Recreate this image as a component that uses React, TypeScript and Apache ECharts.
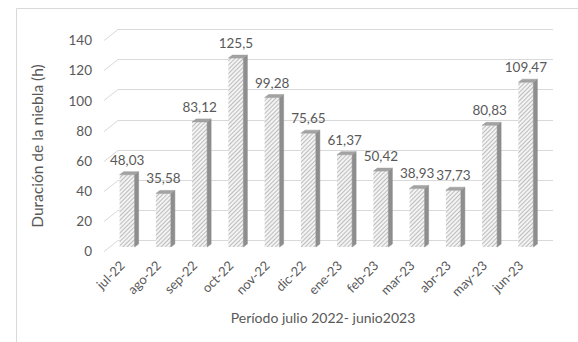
import React, { useEffect, useRef } from "react";
import * as echarts from "echarts";

const CATEGORIES = ["jul-22", "ago-22", "sep-22", "oct-22", "nov-22", "dic-22", "ene-23", "feb-23", "mar-23", "abr-23", "may-23", "jun-23"];
const DURATION = [48.03, 35.58, 83.12, 125.5, 99.28, 75.65, 61.37, 50.42, 38.93, 37.73, 80.83, 109.47];
const Y_TICKS = [0, 20, 40, 60, 80, 100, 120, 140];
const Y_TITLE = "Duración de la niebla (h)";
const X_TITLE = "Período julio 2022- junio2023";

const FONT = "Lato, 'Open Sans', sans-serif";
const TEXT = "#595959";
const GRID_COLOR = "#d9d9d9";
const BAR_W = 15;
const DEPTH_X = 4;
const DEPTH_Y = 3;

export default function App() {
  const ref = useRef<HTMLDivElement>(null);
  useEffect(() => {
    if (!ref.current) return;
    const chart = echarts.init(ref.current, null, { renderer: "svg" });
    const fmt = (v: number) => String(v).replace(".", ",");
    chart.setOption({
      animation: false,
      backgroundColor: "#ffffff",
      grid: [
        { left: 109, right: 34, top: 36.3, bottom: 95 },
        { left: 104, right: 39, top: 40.3, bottom: 91 },
        { left: 118, right: 25, top: 29.3, bottom: 102 },
      ],
      xAxis: [
        { gridIndex: 0, type: "category", data: CATEGORIES, show: false },
        {
          gridIndex: 1,
          type: "category",
          data: CATEGORIES,
          axisLine: { show: false },
          axisTick: { show: false },
          axisLabel: { rotate: 45, margin: 12, color: TEXT, fontSize: 13, fontFamily: FONT, interval: 0 },
        },
        { gridIndex: 2, type: "category", data: CATEGORIES, show: false },
      ],
      yAxis: [
        { gridIndex: 0, type: "value", min: 0, max: 140, interval: 20, show: false },
        {
          gridIndex: 1,
          type: "value",
          min: 0,
          max: 140,
          interval: 20,
          axisLine: { show: false },
          axisTick: { show: false },
          splitLine: { show: false },
          axisLabel: { margin: 12, color: TEXT, fontSize: 13.5, fontFamily: FONT },
        },
        { gridIndex: 2, type: "value", min: 0, max: 140, interval: 20, show: false },
      ],
      graphic: [
        {
          type: "rect",
          shape: { x: 16.5, y: 8.5, width: 700, height: 500 },
          style: { fill: "none", stroke: GRID_COLOR, lineWidth: 1 },
          silent: true,
          z: -10,
        },
        {
          type: "text",
          x: 37,
          y: 146,
          rotation: Math.PI / 2,
          style: { text: Y_TITLE, fill: TEXT, fontSize: 15.5, fontFamily: FONT, align: "center", verticalAlign: "middle" },
        },
        {
          type: "text",
          x: 323,
          y: 317,
          style: { text: X_TITLE, fill: TEXT, fontSize: 14, fontFamily: FONT, align: "center", verticalAlign: "middle" },
        },
      ],
      series: [
        {
          type: "custom",
          xAxisIndex: 2,
          yAxisIndex: 2,
          z: 1,
          silent: true,
          data: Y_TICKS.map((t) => [0, t]),
          encode: { x: 0, y: 1 },
          renderItem: (params: any, api: any) => {
            const cs = params.coordSys;
            const y = Math.round(api.coord([0, api.value(1)])[1]) + 0.5;
            return {
              type: "polyline",
              shape: { points: [[cs.x - 14, y + 11], [cs.x, y], [cs.x + cs.width, y]] },
              style: { fill: "none", stroke: GRID_COLOR, lineWidth: 1 },
            };
          },
        },
        {
          type: "bar",
          xAxisIndex: 0,
          yAxisIndex: 0,
          z: 3,
          barWidth: BAR_W,
          data: DURATION,
          itemStyle: {
            color: "#f3f3f3",
            decal: {
              symbol: "rect",
              symbolSize: 1,
              color: "#bdbdbd",
              dashArrayX: [1, 0],
              dashArrayY: [1, 1.5],
              rotation: -Math.PI / 4,
            },
          },
          label: {
            show: true,
            position: "top",
            distance: 8,
            color: TEXT,
            fontSize: 13.5,
            fontFamily: FONT,
            formatter: (p: any) => fmt(p.value),
          },
        },
        {
          type: "custom",
          xAxisIndex: 0,
          yAxisIndex: 0,
          z: 4,
          silent: true,
          data: DURATION.map((v, i) => [i, v]),
          encode: { x: 0, y: 1 },
          renderItem: (params: any, api: any) => {
            const [cx, y] = api.coord([api.value(0), api.value(1)]);
            const y0 = api.coord([api.value(0), 0])[1];
            const xl = cx - BAR_W / 2;
            const xr = cx + BAR_W / 2;
            return {
              type: "group",
              children: [
                {
                  type: "polygon",
                  shape: { points: [[xr, y], [xr + DEPTH_X, y - DEPTH_Y], [xr + DEPTH_X, y0 - DEPTH_Y], [xr, y0]] },
                  style: { fill: "#8e8e8e", stroke: "#8a8a8a", lineWidth: 0.5 },
                },
                {
                  type: "polygon",
                  shape: { points: [[xl, y], [xl + DEPTH_X, y - DEPTH_Y], [xr + DEPTH_X, y - DEPTH_Y], [xr, y]] },
                  style: { fill: "#a3a3a3", stroke: "#9a9a9a", lineWidth: 0.5 },
                },
              ],
            };
          },
        },
      ],
    });
    return () => chart.dispose();
  }, []);
  return <div ref={ref} style={{ position: "fixed", left: 0, top: 0, width: 578, height: 342 }} />;
}
